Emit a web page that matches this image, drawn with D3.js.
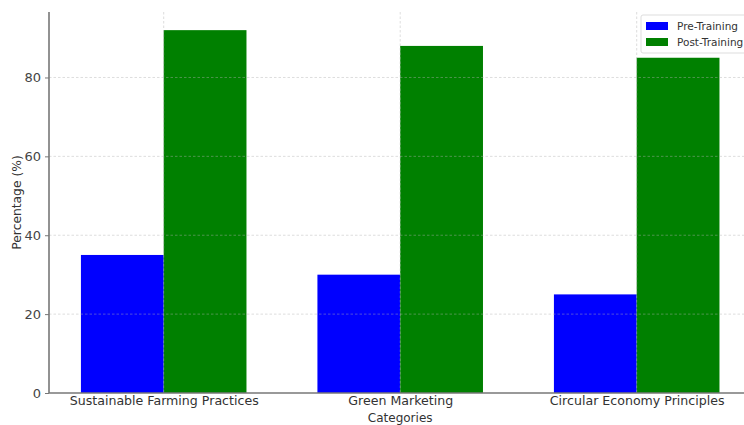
<!DOCTYPE html>
<html>
<head>
<meta charset="utf-8">
<script src="https://cdn.jsdelivr.net/npm/d3@7"></script>
<style>
  body { margin: 0; background: #fff; }
  text { font-family: "DejaVu Sans", sans-serif; }
</style>
</head>
<body>
<svg id="chart" width="744" height="425"></svg>
<script>
// chart data
var categories = ["Sustainable Farming Practices", "Green Marketing", "Circular Economy Principles"];
var seriesNames = ["Pre-Training", "Post-Training"];
var preTraining = [35, 30, 25];
var postTraining = [92, 88, 85];
var yTicks = [0, 20, 40, 60, 80];

var colors = ["#0000ff", "#008000"];

var svg = d3.select("#chart"),
    plotLeft = 49,
    plotTop = 12,
    plotBottom = 393,
    barW = 0.35;

// matplotlib-like limits: x from -0.485 to 2.485 over the data index
var x = d3.scaleLinear()
    .domain([-0.485, 2.485])
    .range([plotLeft, plotLeft + 2.97 * 236.5]);

var y = d3.scaleLinear()
    .domain([0, 92 * 1.05])
    .range([plotBottom, plotTop]);

var rows = categories.map(function (c, i) {
    return { cat: c, i: i, vals: [preTraining[i], postTraining[i]] };
});

// bars
rows.forEach(function (r) {
    r.vals.forEach(function (v, s) {
        var x0 = s === 0 ? r.i - barW : r.i;
        svg.append("rect")
            .attr("x", x(x0))
            .attr("y", y(v))
            .attr("width", x(x0 + barW) - x(x0))
            .attr("height", y(0) - y(v))
            .attr("fill", colors[s]);
    });
});

// grid on top of the bars
var grid = svg.append("g")
    .attr("stroke", "#b0b0b0")
    .attr("stroke-opacity", 0.55)
    .attr("stroke-width", 0.8)
    .attr("stroke-dasharray", "2.5,2");

yTicks.slice(1).forEach(function (t) {
    grid.append("line")
        .attr("x1", plotLeft).attr("x2", 744)
        .attr("y1", y(t)).attr("y2", y(t));
});
rows.forEach(function (r) {
    grid.append("line")
        .attr("x1", x(r.i)).attr("x2", x(r.i))
        .attr("y1", plotTop).attr("y2", plotBottom);
});

// axes
var yAxis = d3.axisLeft(y).tickValues(yTicks).tickSize(4).tickPadding(4);
var gy = svg.append("g").attr("transform", "translate(" + plotLeft + ",0)").call(yAxis);
gy.select(".domain").attr("d", "M0," + plotTop + "V" + plotBottom).attr("stroke", "#777").attr("stroke-width", 1.6);
gy.selectAll(".tick line").attr("stroke", "#777");
gy.selectAll(".tick text").attr("fill", "#444").style("font-size", "13px");

var xAxis = d3.axisBottom(x).tickValues([0, 1, 2])
    .tickFormat(function (d) { return categories[d]; })
    .tickSize(0).tickPadding(3);
var gx = svg.append("g").attr("transform", "translate(0," + plotBottom + ")").call(xAxis);
gx.select(".domain").attr("d", "M" + plotLeft + ",0H744").attr("stroke", "#777").attr("stroke-width", 1.6);
gx.selectAll(".tick text").attr("fill", "#333").style("font-size", "12.6px");

// axis titles
svg.append("text")
    .attr("transform", "translate(21," + ((plotTop + plotBottom) / 2) + ") rotate(-90)")
    .attr("text-anchor", "middle")
    .attr("fill", "#333")
    .style("font-size", "12.3px")
    .text("Percentage (%)");

svg.append("text")
    .attr("x", x(1))
    .attr("y", 422)
    .attr("text-anchor", "middle")
    .attr("fill", "#333")
    .style("font-size", "12px")
    .text("Categories");

// legend
var legend = svg.append("g").attr("transform", "translate(641,15)");
legend.append("rect")
    .attr("width", 110).attr("height", 38).attr("rx", 2)
    .attr("fill", "#fff").attr("fill-opacity", 0.85)
    .attr("stroke", "#ddd");
seriesNames.forEach(function (n, s) {
    legend.append("rect")
        .attr("x", 5).attr("y", 7 + s * 16)
        .attr("width", 22).attr("height", 8)
        .attr("fill", colors[s]);
    legend.append("text")
        .attr("x", 36).attr("y", 15 + s * 16)
        .attr("fill", "#333")
        .style("font-size", "10.5px")
        .text(n);
});
</script>
</body>
</html>
